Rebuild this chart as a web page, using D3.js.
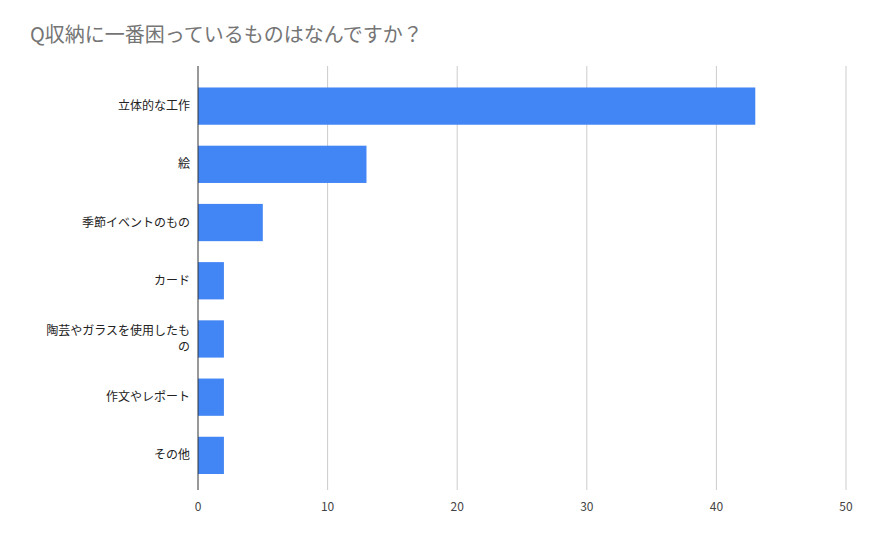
<!DOCTYPE html>
<html><head><meta charset="utf-8">
<script src="https://cdn.jsdelivr.net/npm/d3@7"></script>
<style>body{margin:0;background:#fff}text{font-family:"Noto Sans CJK JP","Noto Sans",sans-serif}</style>
</head><body>
<svg id="c" width="873" height="540"></svg>
<script>
const categories = ["立体的な工作","絵","季節イベントのもの","カード","陶芸やガラスを使用したもの","作文やレポート","その他"];
const labelLines = [["立体的な工作"],["絵"],["季節イベントのもの"],["カード"],["陶芸やガラスを使用したも","の"],["作文やレポート"],["その他"]];
const values = [43,13,5,2,2,2,2];
const xTicks = [0,10,20,30,40,50];
const title = "Q収納に一番困っているものはなんですか？";

const svg = d3.select("#c");
svg.append("rect").attr("width",873).attr("height",540).attr("fill","#fff");
const x = d3.scaleLinear().domain([0,50]).range([198,846]);
const y = d3.scaleBand().domain(categories).range([77,484.5]).paddingInner(0.36).paddingOuter(0.18);

svg.append("text").attr("x",30).attr("y",42).attr("font-size",20).attr("fill","#757575").text(title);

svg.selectAll(".g").data(xTicks.slice(1)).enter().append("line")
 .attr("x1",d=>x(d)).attr("x2",d=>x(d)).attr("y1",66).attr("y2",490)
 .attr("stroke","#cccccc").attr("stroke-width",1);

svg.selectAll(".b").data(values).enter().append("rect")
 .attr("x",x(0)).attr("y",(d,i)=>y(categories[i])).attr("width",d=>x(d)-x(0))
 .attr("height",y.bandwidth()).attr("fill","#4285f4");

svg.append("line").attr("x1",x(0)).attr("x2",x(0)).attr("y1",66).attr("y2",490).attr("stroke","#333").attr("stroke-width",1);

svg.selectAll(".t").data(xTicks).enter().append("text")
 .attr("x",d=>x(d)).attr("y",511).attr("text-anchor","middle").attr("font-size",12).attr("fill","#444").text(d=>d);

labelLines.forEach((lines,i)=>{
  const cy = y(categories[i]) + y.bandwidth()/2;
  const n = lines.length;
  lines.forEach((l,j)=>{
    svg.append("text").attr("x",190).attr("y",cy + (j-(n-1)/2)*16 + 4)
      .attr("text-anchor","end").attr("font-size",12).attr("fill","#222").text(l);
  });
});
</script>
</body></html>
